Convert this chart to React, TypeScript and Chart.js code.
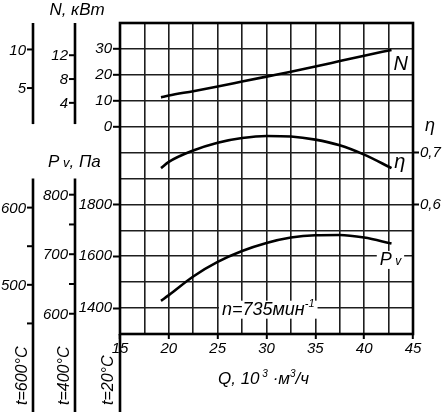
import React, { useEffect, useRef } from 'react';
import { Chart, registerables } from 'chart.js';

Chart.register(...registerables);

// ---- data ----
const Q = [19.2, 20, 22.5, 25, 27.5, 30, 32.5, 35, 37.5, 40, 42.8];
const N_KW = [11.3, 12.0, 13.7, 15.5, 17.4, 19.3, 21.2, 23.2, 25.3, 27.4, 29.6];
const ETA = [0.670, 0.682, 0.704, 0.719, 0.728, 0.732, 0.731, 0.725, 0.714, 0.696, 0.670];
const PV = [1428, 1450, 1522, 1578, 1620, 1651, 1672, 1681, 1682, 1672, 1649];

const X_TICKS = [15, 20, 25, 30, 35, 40, 45];
const N_TICKS = [0, 10, 20, 30];
const PV_TICKS = [1400, 1600, 1800];
const ETA_TICKS = [0.6, 0.7];

const TEMPS = [600, 400];
const N_TICKS_T = [[5, 10], [4, 8, 12]];
const PV_TICKS_T = [[500, 600], [600, 700, 800]];
const PV_MINOR_T = [[450, 550], [650, 750]];
const TEMP_LABELS = ['t=600°C', 't=400°C', 't=20°C'];

const densityRatio = (t: number) => (273 + 20) / (273 + t);

const FONT = '"Liberation Sans", Arimo, Arial, sans-serif';
const f = (size: number) => `italic ${size}px ${FONT}`;
const GRID = '#1e1e1e';
const TICK_SIZE = 15;

type Run = { text: string; size: number; dy?: number };

function drawRuns(ctx: CanvasRenderingContext2D, runs: Run[], x: number, y: number, align: 'left' | 'center' | 'right', bg = false) {
  ctx.textBaseline = 'alphabetic';
  ctx.textAlign = 'left';
  let total = 0;
  const widths = runs.map((r) => {
    ctx.font = f(r.size);
    const w = ctx.measureText(r.text).width;
    total += w;
    return w;
  });
  let cx = align === 'center' ? x - total / 2 : align === 'right' ? x - total : x;
  if (bg) {
    const ms = Math.max(...runs.map((r) => r.size));
    ctx.fillStyle = '#fff';
    ctx.fillRect(cx - 3, y - ms * 0.8, total + 6, ms * 1.0);
    ctx.fillStyle = '#000';
  }
  runs.forEach((r, i) => {
    ctx.font = f(r.size);
    ctx.fillText(r.text, cx, y + (r.dy || 0));
    cx += widths[i];
  });
}

function line(ctx: CanvasRenderingContext2D, x1: number, y1: number, x2: number, y2: number) {
  ctx.beginPath();
  ctx.moveTo(x1, y1);
  ctx.lineTo(x2, y2);
  ctx.stroke();
}

const decorPlugin = {
  id: 'decor',
  afterDatasetsDraw(chart: any) {
    const { ctx, chartArea: ca, scales } = chart;
    const x = scales.x, yN = scales.yN, yP = scales.yP, yE = scales.yEta;
    const H = chart.height;
    ctx.save();
    ctx.strokeStyle = '#000';
    ctx.fillStyle = '#000';

    // frame
    ctx.lineWidth = 2.6;
    ctx.strokeRect(ca.left, ca.top, ca.right - ca.left, ca.bottom - ca.top);
    line(ctx, ca.left, ca.bottom, ca.left, H);

    // Pv (20°C) tick labels on the main left axis, placed with the yP scale
    ctx.font = f(TICK_SIZE);
    ctx.textAlign = 'right';
    ctx.textBaseline = 'middle';
    PV_TICKS.forEach((v) => {
      ctx.fillText(String(v), ca.left - 8, yP.getPixelForValue(v));
    });

    // side axes for other temperatures
    const sideX = [33, 75];
    TEMPS.forEach((t, i) => {
      const r = densityRatio(t);
      const sx = sideX[i];
      ctx.lineWidth = 2.6;
      line(ctx, sx, ca.top, sx, yN.getPixelForValue(1));
      line(ctx, sx, yP.getPixelForValue(1900), sx, H);
      ctx.lineWidth = 2;
      ctx.font = f(TICK_SIZE);
      ctx.textAlign = 'right';
      ctx.textBaseline = 'middle';
      N_TICKS_T[i].forEach((v) => {
        const y = yN.getPixelForValue(v / r);
        line(ctx, sx - 6, y, sx, y);
        ctx.fillText(String(v), sx - 7, y + 1);
      });
      PV_TICKS_T[i].forEach((v) => {
        const y = yP.getPixelForValue(v / r);
        line(ctx, sx - 6, y, sx, y);
        ctx.fillText(String(v), sx - 7, y + 1);
      });
      PV_MINOR_T[i].forEach((v) => {
        const y = yP.getPixelForValue(v / r);
        line(ctx, sx - 6, y, sx, y);
      });
    });

    // rotated temperature labels
    const tX = [23, 65, ca.left - 11];
    TEMP_LABELS.forEach((s, i) => {
      ctx.save();
      ctx.translate(tX[i], 405);
      ctx.rotate(-Math.PI / 2);
      ctx.font = f(16);
      ctx.textAlign = 'left';
      ctx.textBaseline = 'middle';
      ctx.fillText(s, 0, 0);
      ctx.restore();
    });

    // axis titles
    drawRuns(ctx, [{ text: 'N, кВт', size: 17 }], 77, 15, 'center');
    drawRuns(ctx, [{ text: 'P', size: 17 }, { text: ' v', size: 13 }, { text: ', Па', size: 17 }], 48, 167, 'left');
    drawRuns(ctx, [{ text: 'η', size: 18 }], ca.right + 17, yE.getPixelForValue(0.742), 'center');
    drawRuns(ctx, [
      { text: 'Q, 10', size: 17 },
      { text: ' 3', size: 10, dy: -7 },
      { text: ' ·м', size: 17 },
      { text: '3', size: 10, dy: -7 },
      { text: '/ч', size: 17 },
    ], 218, 384, 'left');

    // curve labels
    drawRuns(ctx, [{ text: 'N', size: 20 }], x.getPixelForValue(43.75), yN.getPixelForValue(21.9), 'center');
    drawRuns(ctx, [{ text: 'η', size: 20 }], x.getPixelForValue(43.65), yE.getPixelForValue(0.670), 'center');
    drawRuns(ctx, [{ text: 'P', size: 18 }, { text: ' v', size: 12 }], x.getPixelForValue(41.6), yP.getPixelForValue(1565), 'left', true);
    drawRuns(ctx, [{ text: 'n=735мин', size: 18 }, { text: '-1', size: 11, dy: -8 }], x.getPixelForValue(25.44), yP.getPixelForValue(1373), 'left', true);

    ctx.restore();
  },
};

const tickFont = { family: FONT, size: TICK_SIZE, style: 'italic' as const };
const hidden = 'rgba(0,0,0,0)';

export default function App() {
  const ref = useRef<HTMLCanvasElement | null>(null);
  useEffect(() => {
    if (!ref.current) return;
    const mk = (ys: number[]) => Q.map((q, i) => ({ x: q, y: ys[i] }));
    const ds = (data: any, yAxisID: string) => ({
      data,
      yAxisID,
      borderColor: '#000',
      borderWidth: 2.6,
      pointRadius: 0,
      fill: false,
      cubicInterpolationMode: 'monotone' as const,
    });
    const chart = new Chart(ref.current, {
      type: 'line',
      data: {
        datasets: [ds(mk(N_KW), 'yN'), ds(mk(ETA), 'yEta'), ds(mk(PV), 'yP')],
      },
      options: {
        responsive: false,
        maintainAspectRatio: false,
        animation: false,
        events: [],
        layout: { padding: { top: 23, left: 0, right: 0, bottom: 0 } },
        plugins: { legend: { display: false }, tooltip: { enabled: false } },
        scales: {
          x: {
            type: 'linear',
            min: 15,
            max: 45,
            border: { display: false },
            ticks: {
              stepSize: 2.5,
              autoSkip: false,
              maxRotation: 0,
              padding: 1,
              color: '#000',
              font: tickFont,
              callback: (v: any) => (X_TICKS.includes(Number(v)) ? String(v) : ''),
            },
            grid: {
              color: GRID,
              lineWidth: 1.6,
              tickLength: 5,
              tickWidth: 2,
              tickColor: (c: any) => (X_TICKS.includes(c.tick?.value) ? '#000' : hidden),
            },
            afterFit: (s: any) => { s.height = 78; },
          },
          yN: {
            type: 'linear',
            position: 'left',
            weight: 1,
            min: -80,
            max: 40,
            border: { display: false },
            ticks: {
              stepSize: 10,
              autoSkip: false,
              padding: 1,
              color: '#000',
              font: tickFont,
              callback: (v: any) => (N_TICKS.includes(Number(v)) ? String(v) : ''),
            },
            grid: {
              color: GRID,
              lineWidth: 1.6,
              tickLength: 7,
              tickWidth: 2,
              tickColor: (c: any) => (N_TICKS.includes(c.tick?.value) ? '#000' : hidden),
            },
            afterFit: (s: any) => { s.width = 120; },
          },
          yP: {
            type: 'linear',
            position: 'left',
            weight: 0,
            min: 1300,
            max: 2500,
            border: { display: false },
            afterBuildTicks: (s: any) => { s.ticks = PV_TICKS.map((v) => ({ value: v })); },
            ticks: { display: false },
            grid: { drawOnChartArea: false, tickLength: 7, tickWidth: 2, tickColor: '#000' },
            afterFit: (s: any) => { s.width = 0; },
          },
          yEta: {
            type: 'linear',
            position: 'right',
            min: 0.35,
            max: 0.95,
            border: { display: false },
            afterBuildTicks: (s: any) => { s.ticks = ETA_TICKS.map((v) => ({ value: v })); },
            ticks: {
              autoSkip: false,
              padding: 1,
              color: '#000',
              font: tickFont,
              callback: (v: any) => Number(v).toFixed(1).replace('.', ','),
            },
            grid: { drawOnChartArea: false, tickLength: 6, tickWidth: 2, tickColor: '#000' },
            afterFit: (s: any) => { s.width = 30; },
          },
        },
      } as any,
      plugins: [decorPlugin],
    });
    return () => chart.destroy();
  }, []);
  return (
    <div style={{ position: 'fixed', left: 0, top: 0, width: 443, height: 412, background: '#fff' }}>
      <canvas ref={ref} width={443} height={412} style={{ width: 443, height: 412, display: 'block' }} />
    </div>
  );
}
